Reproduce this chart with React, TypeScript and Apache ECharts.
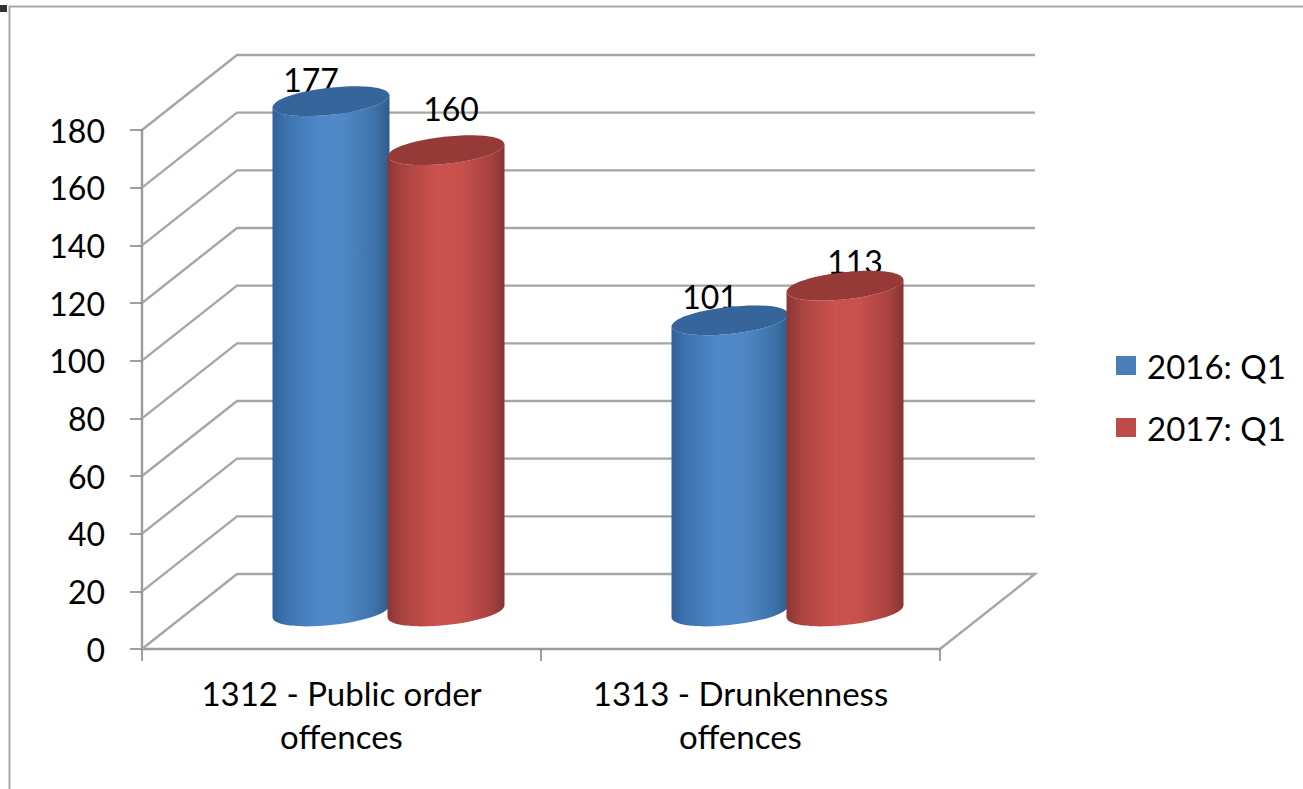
import React, { useEffect, useRef } from "react";
import * as echarts from "echarts";

const categories = ["1312 - Public order\noffences", "1313 - Drunkenness\noffences"];
const seriesNames = ["2016: Q1", "2017: Q1"];
const values2016 = [177, 101];
const values2017 = [160, 113];
const yTicks = [0, 20, 40, 60, 80, 100, 120, 140, 160, 180];

const FONT = "Lato";
const DEPTH_X = 95;
const DEPTH_Y = -75;
const RX = 58.5;
const TILT_Y = 6;

function linear(stops: [number, string][]) {
  return {
    type: "linear", x: 0, y: 0, x2: 1, y2: 0,
    colorStops: stops.map(([offset, color]) => ({ offset, color })),
  };
}

const blueBody = linear([
  [0, "#2f6198"], [0.12, "#3d73af"], [0.4, "#5088c9"], [0.62, "#4f87c6"],
  [0.88, "#3d72a9"], [1, "#2e5c8b"],
]);
const redBody = linear([
  [0, "#8a3634"], [0.12, "#a94340"], [0.42, "#cb524e"], [0.62, "#c8514d"],
  [0.88, "#a8423f"], [1, "#853432"],
]);

// Rounded, slightly tilted cap: each half is the other rotated by 180 degrees.
function upperArc(cx: number, cy: number) {
  return `C${cx - 56} ${cy - 12} ${cx + 55} ${cy - 24} ${cx + RX} ${cy - TILT_Y}`;
}
function lowerArc(cx: number, cy: number) {
  return `C${cx + 56} ${cy + 12} ${cx - 55} ${cy + 24} ${cx - RX} ${cy + TILT_Y}`;
}
function lowerArcForward(cx: number, cy: number) {
  return `C${cx - 55} ${cy + 24} ${cx + 56} ${cy + 12} ${cx + RX} ${cy - TILT_Y}`;
}

function cylinder(
  offsetX: number,
  body: any,
  top: string,
  labelOffsets: [number, number][]
) {
  return (params: any, api: any) => {
    const cat = api.value(0);
    const val = api.value(1);
    const base = api.coord([cat, 0]);
    const head = api.coord([cat, val]);
    const cx = base[0] + DEPTH_X / 2 + offsetX;
    const by = base[1] + DEPTH_Y / 2;
    const ty = head[1] + DEPTH_Y / 2;
    const bodyPath =
      `M${cx - RX} ${ty + TILT_Y}L${cx - RX} ${by + TILT_Y}` +
      lowerArcForward(cx, by) +
      `L${cx + RX} ${ty - TILT_Y}` +
      lowerArc(cx, ty) +
      "Z";
    const topPath = `M${cx - RX} ${ty + TILT_Y}` + upperArc(cx, ty) + lowerArc(cx, ty) + "Z";
    const lo = labelOffsets[params.dataIndex];
    return {
      type: "group",
      children: [
        {
          type: "text",
          style: {
            text: String(val), x: cx + lo[0], y: ty + lo[1],
            fill: "#000", font: `32px ${FONT}`, align: "center", verticalAlign: "middle",
          },
        },
        { type: "path", shape: { pathData: bodyPath }, style: { fill: body } },
        { type: "path", shape: { pathData: topPath }, style: { fill: top } },
      ],
    };
  };
}

function wallItem(params: any, api: any) {
  const sys = params.coordSys;
  const y = api.coord([0, api.value(1)])[1];
  const left = sys.x;
  const right = sys.x + sys.width;
  const pts: number[][] = [
    [left, y],
    [left + DEPTH_X, y + DEPTH_Y],
    [right + DEPTH_X, y + DEPTH_Y],
  ];
  if (api.value(1) === 0) pts.push([right, y]);
  return {
    type: "polyline",
    shape: { points: pts },
    style: { stroke: "#a6a6a6", lineWidth: 2.4, fill: "none" },
  };
}

export default function App() {
  const ref = useRef<HTMLDivElement>(null);
  useEffect(() => {
    const chart = echarts.init(ref.current!, null, { renderer: "svg" });
    chart.setOption({
      animation: false,
      backgroundColor: "#ffffff",
      grid: { left: 142, right: 363, top: 130, bottom: 140 },
      legend: {
        data: seriesNames,
        orient: "vertical",
        left: 1116,
        top: 349,
        padding: 0,
        itemWidth: 20,
        itemHeight: 19,
        itemGap: 29,
        icon: "rect",
        textStyle: { fontFamily: FONT, fontSize: 33, color: "#000", padding: [0, 0, 0, 6] },
      },
      xAxis: {
        type: "category",
        data: categories,
        axisLine: { lineStyle: { color: "#9a9a9a", width: 2.4 } },
        axisTick: { show: true, alignWithLabel: false, length: 12, lineStyle: { color: "#808080", width: 1.5 } },
        axisLabel: {
          interval: 0, margin: 22, fontFamily: FONT, fontSize: 33, color: "#000", lineHeight: 43,
        },
        splitLine: { show: false },
      },
      yAxis: {
        type: "value",
        min: 0,
        max: 180,
        interval: 20,
        axisLine: { show: true, lineStyle: { color: "#9a9a9a", width: 2.4 } },
        axisTick: { show: true, length: 12, lineStyle: { color: "#808080", width: 1.5 } },
        axisLabel: { margin: 37, fontFamily: FONT, fontSize: 32, color: "#000" },
        splitLine: { show: false },
      },
      series: [
        {
          name: "walls",
          type: "custom",
          silent: true,
          z: 1,
          data: yTicks.map((t) => [0, t]),
          renderItem: wallItem,
        },
        {
          name: seriesNames[0],
          type: "custom",
          z: 2,
          itemStyle: { color: "#4a7ebb" },
          data: values2016.map((v, i) => [i, v]),
          renderItem: cylinder(-58, blueBody, "#36659b", [[-20, -22], [-20, -24]]),
        },
        {
          name: seriesNames[1],
          type: "custom",
          z: 3,
          itemStyle: { color: "#be4b48" },
          data: values2017.map((v, i) => [i, v]),
          renderItem: cylinder(57, redBody, "#963a38", [[5, -42], [10, -24]]),
        },
      ],
      graphic: [
        { type: "rect", shape: { x: 0, y: 5, width: 7, height: 7 }, style: { fill: "#333333" } },
        { type: "line", shape: { x1: 9, y1: 6.5, x2: 1303, y2: 6.5 }, style: { stroke: "#a8a8a8", lineWidth: 2 } },
        { type: "line", shape: { x1: 9.5, y1: 6, x2: 9.5, y2: 789 }, style: { stroke: "#a8a8a8", lineWidth: 2 } },
      ],
    });
    return () => chart.dispose();
  }, []);
  return <div ref={ref} style={{ position: "absolute", left: 0, top: 0, width: 1303, height: 789 }} />;
}
